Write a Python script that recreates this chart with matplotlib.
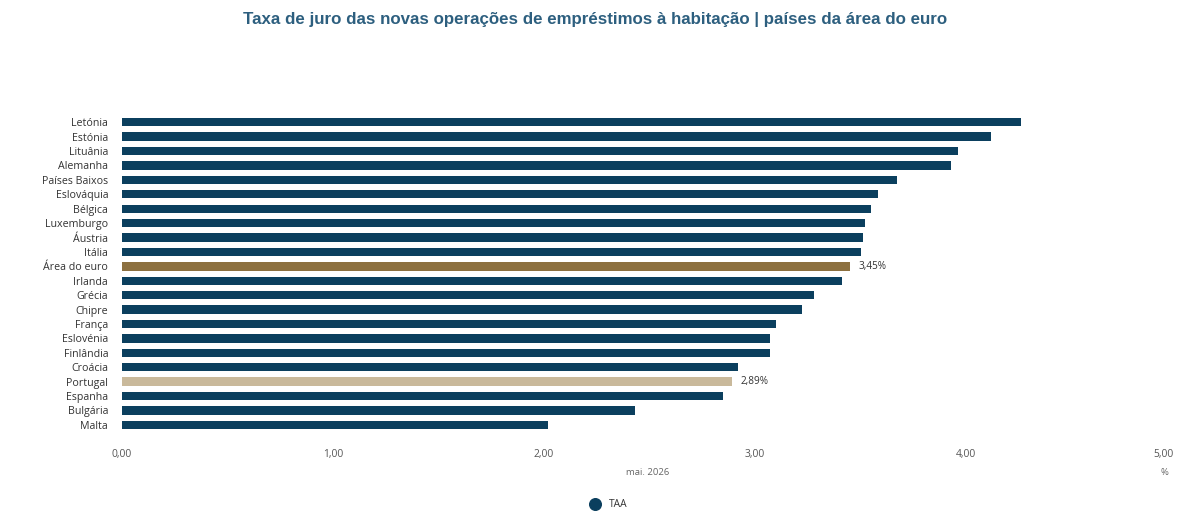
import numpy as np
import matplotlib.pyplot as plt
from matplotlib.transforms import ScaledTranslation

countries = ['Letónia', 'Estónia', 'Lituânia', 'Alemanha', 'Países Baixos', 'Eslováquia',
             'Bélgica', 'Luxemburgo', 'Áustria', 'Itália', 'Área do euro', 'Irlanda',
             'Grécia', 'Chipre', 'França', 'Eslovénia', 'Finlândia', 'Croácia',
             'Portugal', 'Espanha', 'Bulgária', 'Malta']
rates = [4.26, 4.12, 3.96, 3.93, 3.67, 3.58, 3.55, 3.52, 3.51, 3.50, 3.45, 3.41,
         3.28, 3.22, 3.10, 3.07, 3.07, 2.92, 2.89, 2.85, 2.43, 2.02]
labelled = {'Área do euro': '3,45%', 'Portugal': '2,89%'}
xticks = [0, 1, 2, 3, 4, 5]

navy = '#0b3f5e'
colors = []
for c in countries:
    if c == 'Área do euro':
        colors.append('#8c7040')
    elif c == 'Portugal':
        colors.append('#c9b99b')
    else:
        colors.append(navy)

plt.rcParams['font.family'] = ['Open Sans', 'DejaVu Sans']

fig = plt.figure(figsize=(12, 5.23), dpi=100)
ax = fig.add_axes([0.1017, 0.174, 0.8793, 0.606])

y = np.arange(len(countries))
ax.barh(y, rates, height=0.58, color=colors)
ax.set_ylim(len(countries) - 0.5, -0.5)
ax.set_xlim(0, 5)

for i, c in enumerate(countries):
    if c in labelled:
        ax.text(rates[i] + 0.04, i, labelled[c], va='center', ha='left',
                fontsize=7.2, color='#333333')

ax.set_yticks(y)
ax.set_yticklabels(countries, fontsize=7.7, color='#333333')
ax.set_xticks(xticks)
ax.set_xticklabels([('%.2f' % v).replace('.', ',') for v in xticks],
                   fontsize=7.4, color='#555555')
ax.tick_params(axis='both', length=0)
ax.tick_params(axis='x', pad=12)
ax.tick_params(axis='y', pad=10)
last = ax.get_xticklabels()[-1]
last.set_transform(last.get_transform() + ScaledTranslation(-0.14, 0, fig.dpi_scale_trans))
for s in ax.spines.values():
    s.set_visible(False)

fig.text(0.54, 0.097, 'mai. 2026', fontsize=6.8, color='#666666', ha='center', va='center')
fig.text(0.970, 0.097, '%', fontsize=6.8, color='#666666', ha='center', va='center')

fig.text(0.496, 0.963, 'Taxa de juro das novas operações de empréstimos à habitação | países da área do euro',
         ha='center', va='center', fontsize=12.2, fontweight='bold', color='#2d5f7f',
         family=['Liberation Sans', 'DejaVu Sans'])

ax.scatter([], [], s=70, color=navy, label='TAA')
fig.legend(loc='center', bbox_to_anchor=(0.505, 0.035), frameon=False, fontsize=7.4,
           handletextpad=0.3, labelcolor='#333333')

fig.savefig('out.png', dpi=100)
